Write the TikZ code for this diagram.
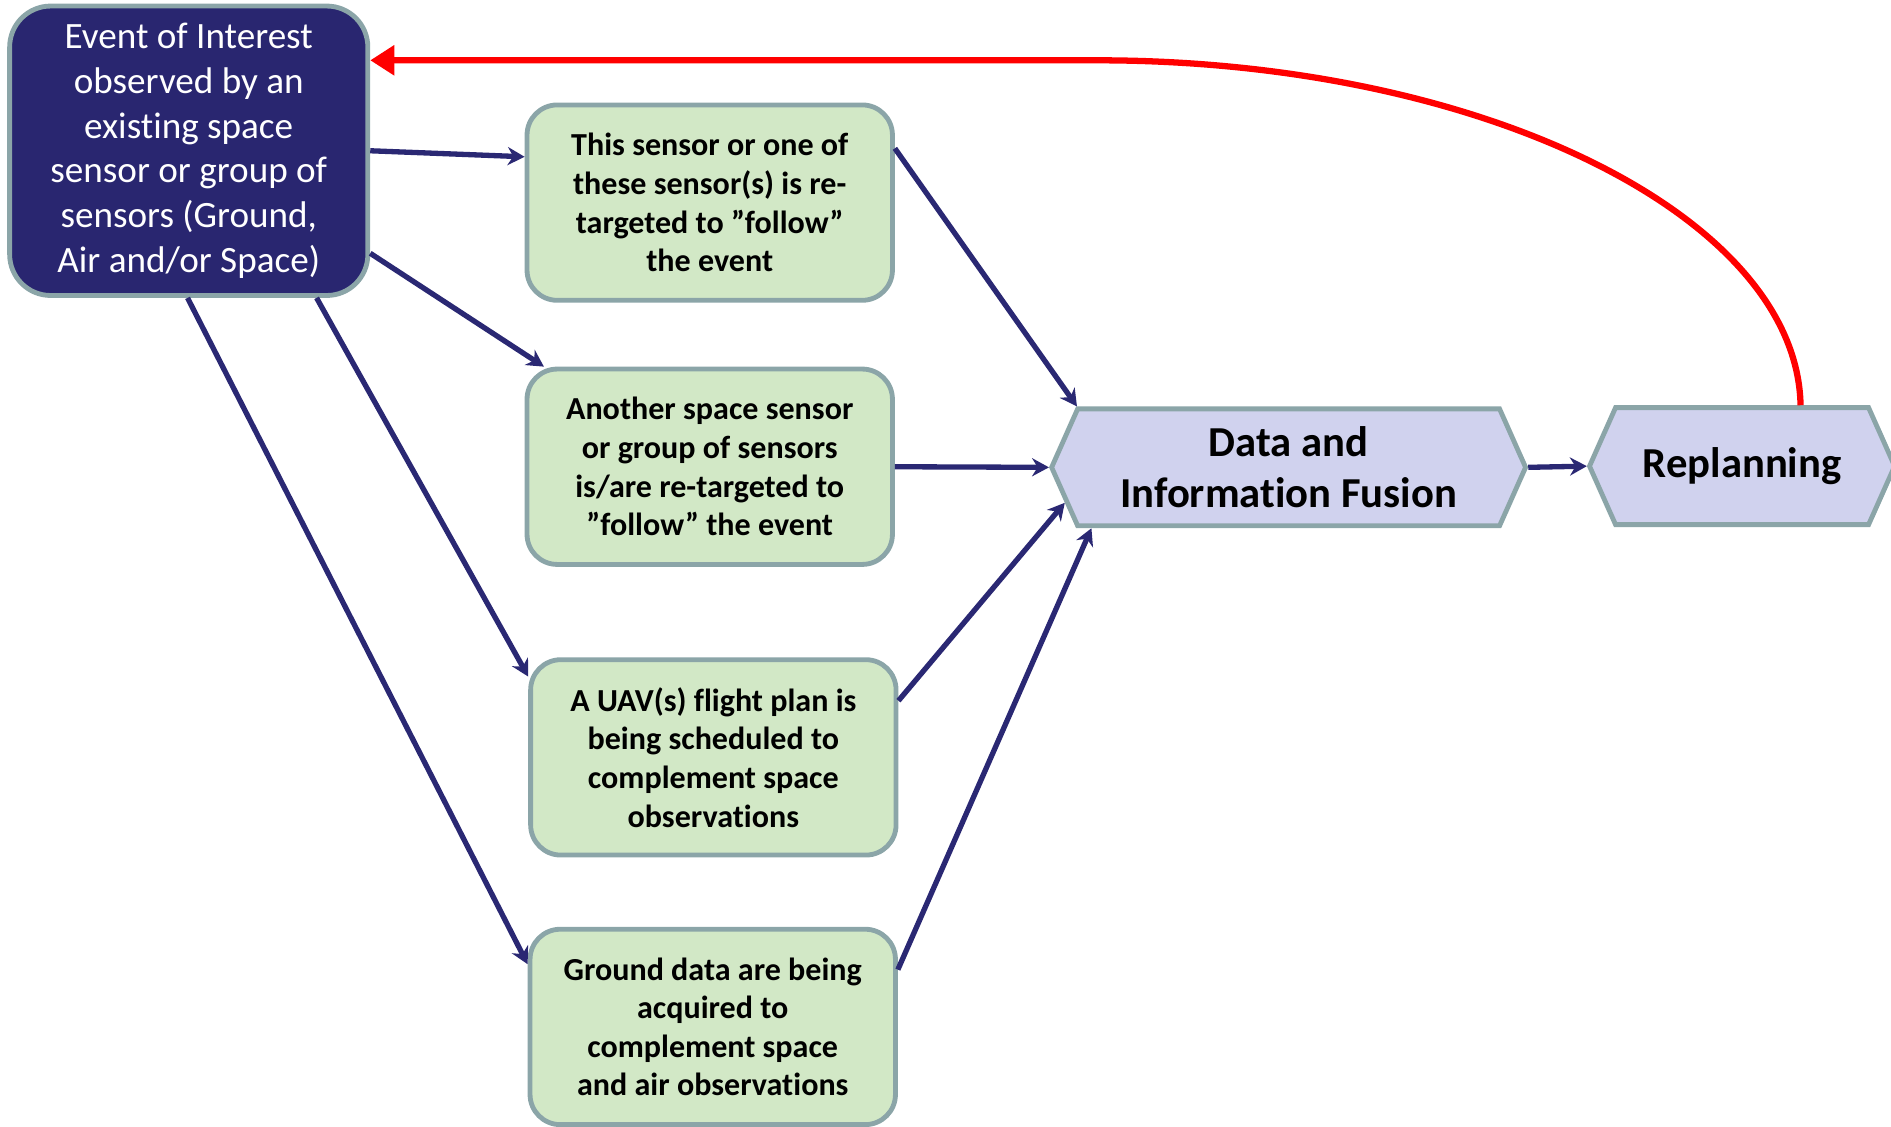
\documentclass[tikz,border=0pt]{standalone}
\usepackage{fontspec}
\setmainfont{Carlito}[Ligatures=NoCommon]
\usetikzlibrary{shapes.symbols,arrows.meta}
\definecolor{eventNavy}{RGB}{41,38,112}
\definecolor{edgeGrey}{RGB}{139,165,168}
\definecolor{stepGreen}{RGB}{210,232,198}
\definecolor{fuseLilac}{RGB}{208,210,238}
\definecolor{arrowNavy}{RGB}{42,40,115}
\definecolor{loopRed}{RGB}{255,0,0}
\tikzset{
  eventBox/.style={draw=edgeGrey, fill=eventNavy, line width=2pt, rounded corners=17pt,
    minimum width=148.5pt, minimum height=120pt, inner sep=0pt, align=center,
    text=white, font=\fontsize{15.4}{18.5}\selectfont},
  stepBox/.style={draw=edgeGrey, fill=stepGreen, line width=2pt, rounded corners=12.5pt,
    minimum width=151.5pt, minimum height=81pt, inner sep=0pt, align=center,
    font=\bfseries\fontsize{13.3}{16}\selectfont},
  fuseHex/.style={shape=signal, signal to=east and west, signal pointer angle=132,
    draw=edgeGrey, fill=fuseLilac, line width=2pt, minimum height=48.5pt,
    inner sep=0pt, align=center, font=\bfseries\fontsize{17.7}{21}\selectfont},
  flowArrow/.style={draw=arrowNavy, line width=2.2pt, -{Stealth[length=7pt,width=7.5pt]}},
  loopArrow/.style={draw=loopRed, line width=2.6pt, -{Triangle[length=10pt,width=12pt]}}
}
\begin{document}
\begin{tikzpicture}[x=0.5pt,y=-0.5pt]
  \useasboundingbox (0,0) rectangle (1568,934);

  % source event
  \node[eventBox] (event) at (156.5,125)
    {Event of Interest\\observed by an\\existing space\\sensor or group of\\sensors (Ground,\\Air and/or Space)};

  % follow-up actions
  \node[stepBox] (retarget) at (588.5,168)
    {This sensor or one of\\these sensor(s) is re-\\targeted to ”follow”\\the event};
  \node[stepBox] (another) at (588.5,387)
    {Another space sensor\\or group of sensors\\is/are re-targeted to\\”follow” the event};
  \node[stepBox] (uav) at (591.5,628)
    {A UAV(s) flight plan is\\being scheduled to\\complement space\\observations};
  \node[stepBox] (ground) at (591,851.5)
    {Ground data are being\\acquired to\\complement space\\and air observations};

  % fusion and replanning
  \node[fuseHex, minimum width=196.5pt] (fusion) at (1068.5,387.5) {Data and\\Information Fusion};
  \node[fuseHex, minimum width=126.5pt] (replan) at (1444.5,386.5) {Replanning};

  \draw[flowArrow] (event.east) -- ([yshift=19pt]retarget.west);
  \draw[flowArrow] ([yshift=-42.5pt]event.east) -- ([xshift=8pt]another.north west);
  \draw[flowArrow] ([xshift=53pt]event.south) -- ([yshift=-8pt]uav.north west);
  \draw[flowArrow] ([xshift=-0.5pt]event.south) -- ([yshift=-15.5pt]ground.north west);

  \draw[flowArrow] ([yshift=22.5pt]retarget.east) -- ([xshift=-87.75pt]fusion.north);
  \draw[flowArrow] (another.east) -- (fusion.west);
  \draw[flowArrow] ([yshift=23.5pt]uav.east) -- (fusion.189);
  \draw[flowArrow] ([yshift=23.75pt]ground.east) -- ([xshift=-81.75pt]fusion.south);
  \draw[flowArrow] (fusion.east) -- (replan.west);

  % feedback loop
  \coordinate (bend) at (910,50);
  \draw[loopArrow] ([xshift=24.25pt]replan.north) .. controls (1490,180) and (1230,50) .. (bend)
    -- ([yshift=37.5pt]event.east);
\end{tikzpicture}
\end{document}
